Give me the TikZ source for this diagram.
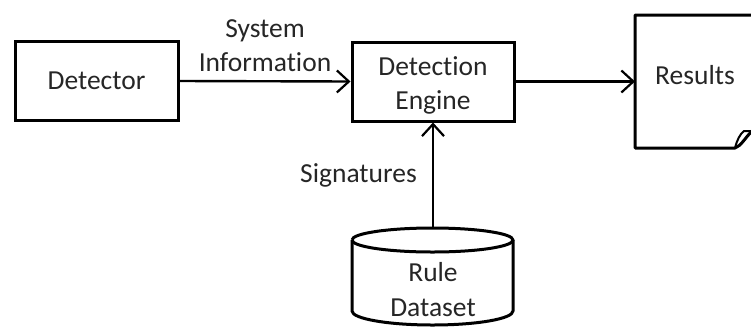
\documentclass[tikz,border=0pt]{standalone}
\usepackage{fontspec}
\setmainfont[Ligatures={NoCommon}]{Carlito}
\usetikzlibrary{arrows.meta}
\begin{document}
\begin{tikzpicture}[x=1pt,y=-1pt,
  txt/.style={font=\fontsize{27.5}{34}\selectfont, text=black!85, align=center, inner sep=0pt},
  boxnode/.style={draw=black, line width=3pt, minimum width=#1, minimum height=79pt, inner sep=0pt},
  flow/.style={line width=2.4pt, -{Straight Barb[length=12pt,width=22pt,line width=2.2pt]}},
  outline/.style={draw=black, line width=3pt, line join=round}]
\useasboundingbox (0,0) rectangle (751,330);
\clip (0,0) rectangle (751,330);

% processing blocks
\node[boxnode=163pt] (det) at (96.5,81) {};
\node[txt] at (det) {Detector};
\node[boxnode=162pt] (eng) at (433,81.5) {};
\node[txt] at (433,85) {Detection\\Engine};

% output document with a folded corner
\node[minimum width=120pt, minimum height=133pt, inner sep=0pt, anchor=north west] (res) at (635,15) {};
\node[txt] at (695,75) {Results};
\coordinate (r1) at (635,15);
\coordinate (r2) at (760,15);
\coordinate (r3) at (635,148);
\coordinate (r4) at (735,148);
\coordinate (r5) at (752,131);
\draw[outline] (r2) -- (r1) -- (r3) -- (r4) .. controls (741,146) and (745,138) .. (r5);
\draw[outline, line width=2pt] (r4) .. controls (737,140) and (740,134) .. (744,131) -- (r5);

% rule store drawn as a cylinder
\coordinate (dbtop) at (433,228);
\node[txt, font=\fontsize{27.5}{35}\selectfont] (db) at (433,290) {Rule\\Dataset};
\draw[outline] (352,240) arc[start angle=180, end angle=-180, x radius=80.5, y radius=12];
\draw[outline] (352,240) -- (352,311) arc[start angle=180, end angle=0, x radius=80.5, y radius=14] -- (513,240);

% connectors
\draw[flow] (det.east) -- node[txt, above=8pt] {System\\Information} (eng.west);
\draw[flow] (eng.east) -- (res.west |- eng.east);
\draw[flow] (dbtop) -- node[txt, left=15pt] {Signatures} (eng.south);
\end{tikzpicture}
\end{document}
